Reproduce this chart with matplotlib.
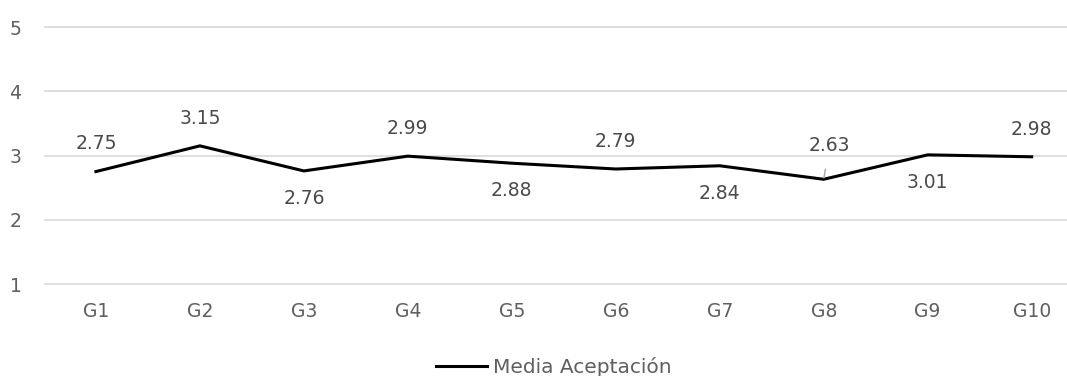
import matplotlib.pyplot as plt
from matplotlib.lines import Line2D

plt.rcParams['font.family'] = ['DejaVu Sans']

grupos = ['G1', 'G2', 'G3', 'G4', 'G5', 'G6', 'G7', 'G8', 'G9', 'G10']
media = [2.75, 3.15, 2.76, 2.99, 2.88, 2.79, 2.84, 2.63, 3.01, 2.98]
# where each value label sits: 1 above the point, -1 below
lado = [1, 1, -1, 1, -1, 1, -1, 1, -1, 1]

fig = plt.figure(figsize=(10.67, 3.76), dpi=100)
ax = fig.add_axes([45 / 1067, 92 / 376, 1022 / 1067, 257 / 376])

x = list(range(len(grupos)))
ax.plot(x, media, color='black', linewidth=2.2, solid_joinstyle='miter')

for i, v in enumerate(media):
    if grupos[i] == 'G8':
        # label pushed up with a short leader line
        ax.annotate(f'{v:.2f}', xy=(i, v), xytext=(4, 24), textcoords='offset points',
                    ha='center', va='center', fontsize=13.5, color='#4a4a4a',
                    arrowprops=dict(arrowstyle='-', color='#a6a6a6', lw=1,
                                    shrinkA=8, shrinkB=1))
    else:
        ax.annotate(f'{v:.2f}', xy=(i, v), xytext=(0, 20 * lado[i]),
                    textcoords='offset points', ha='center', va='center',
                    fontsize=13.5, color='#4a4a4a')

ax.set_xlim(-0.49, 9.34)
ax.set_ylim(1, 5)
ax.set_yticks([1, 2, 3, 4, 5])
ax.set_xticks(x)
ax.set_xticklabels(grupos)
ax.grid(axis='y', color='#d9d9d9', linewidth=1.2)
ax.set_axisbelow(True)
for s in ax.spines.values():
    s.set_visible(False)
ax.tick_params(length=0, labelsize=13.5, colors='#5f5f5f')
ax.tick_params(axis='x', pad=13)
ax.tick_params(axis='y', pad=17)
for gl in ax.get_ygridlines():
    gl.set_clip_on(False)

leyenda = [Line2D([0], [0], color='black', linewidth=2.2)]
fig.legend(leyenda, ['Media Aceptación'], loc='center', bbox_to_anchor=(0.519, 0.025),
           frameon=False, fontsize=14.5, labelcolor='#5f5f5f',
           handlelength=2.5, handletextpad=0.3)

plt.savefig('out.png', dpi=100)
